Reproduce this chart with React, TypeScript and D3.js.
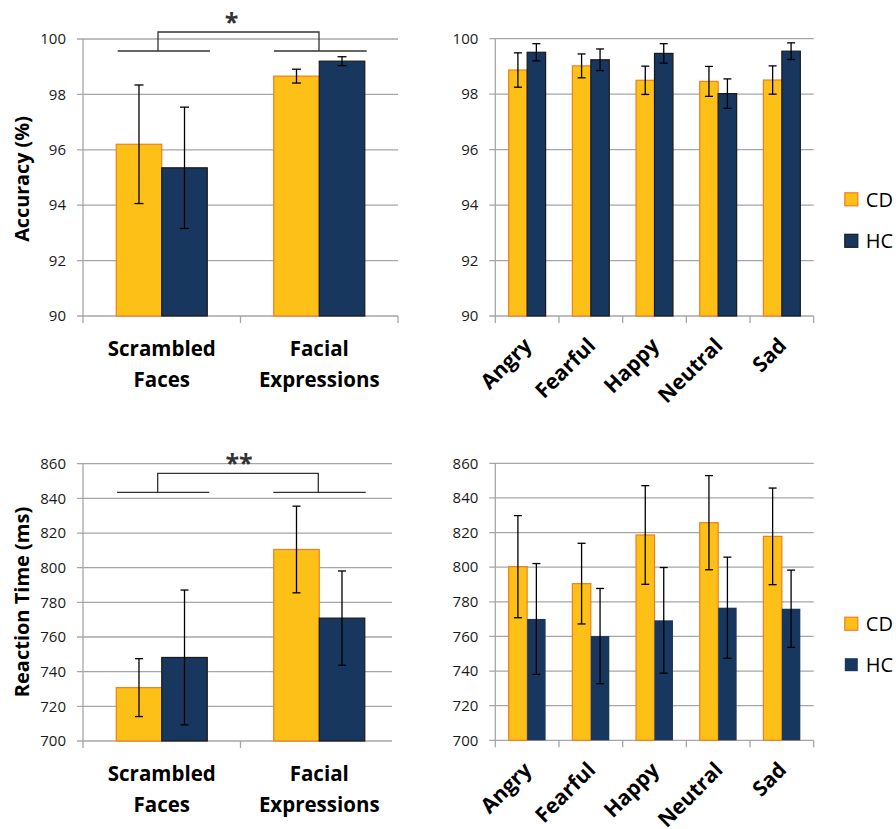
import React from "react";
import * as d3 from "d3";

const groupCats = ["Scrambled Faces", "Facial Expressions"];
const emotionCats = ["Angry", "Fearful", "Happy", "Neutral", "Sad"];

const accGroupCD = [96.2, 98.66];
const accGroupCDErr = [2.14, 0.25];
const accGroupHC = [95.35, 99.2];
const accGroupHCErr = [2.19, 0.16];

const accEmoCD = [98.87, 99.02, 98.5, 98.46, 98.51];
const accEmoCDErr = [0.62, 0.43, 0.51, 0.54, 0.51];
const accEmoHC = [99.51, 99.24, 99.47, 98.02, 99.55];
const accEmoHCErr = [0.31, 0.39, 0.35, 0.53, 0.3];

const rtGroupCD = [730.8, 810.5];
const rtGroupCDErr = [16.7, 25];
const rtGroupHC = [748.2, 770.9];
const rtGroupHCErr = [38.9, 27.2];

const rtEmoCD = [800.3, 790.5, 818.6, 825.7, 817.8];
const rtEmoCDErr = [29.5, 23.3, 28.5, 27.2, 27.9];
const rtEmoHC = [770.1, 760.2, 769.3, 776.6, 776.0];
const rtEmoHCErr = [32, 27.5, 30.5, 29.2, 22.3];

const accTicks = [90, 92, 94, 96, 98, 100];
const rtTicks = [700, 720, 740, 760, 780, 800, 820, 840, 860];

const seriesNames = ["CD", "HC"];

const CD_FILL = "#FCC016";
const CD_STROKE = "#EE7F22";
const HC_FILL = "#17375E";
const GRID = "#A6A6A6";
const FONT = "'Open Sans', sans-serif";

type PanelProps = {
  cats: string[];
  cd: number[];
  cdErr: number[];
  hc: number[];
  hcErr: number[];
  ticks: number[];
  x0: number;
  x1: number;
  yTop: number;
  yBot: number;
  gridRight?: number;
  rotated: boolean;
  hcStroke: string;
  barFrac: number;
  capW: number;
};

function Panel(p: PanelProps) {
  const x = d3.scaleBand<string>().domain(p.cats).range([p.x0, p.x1]).padding(0);
  const y = d3
    .scaleLinear()
    .domain([p.ticks[0], p.ticks[p.ticks.length - 1]])
    .range([p.yBot, p.yTop]);
  const bw = x.bandwidth() * p.barFrac;
  const gr = p.gridRight ?? p.x1;
  const base = y(p.ticks[0]);
  const bounds = [...p.cats.map((c) => x(c)!), p.x1];
  return (
    <g>
      {p.ticks.map((t) => (
        <g key={t}>
          <line x1={p.x0 - 6} x2={gr} y1={y(t)} y2={y(t)} stroke={GRID} strokeWidth={1.3} />
          <text
            x={p.x0 - 17}
            y={y(t)}
            dy="0.35em"
            textAnchor="end"
            fontSize={15}
            fill="#1a1a1a"
            fontFamily={FONT}
          >
            {t}
          </text>
        </g>
      ))}
      <line x1={p.x0} x2={p.x0} y1={p.yTop} y2={base} stroke={GRID} strokeWidth={1.3} />
      {bounds.map((b, i) =>
        i === bounds.length - 1 && p.gridRight ? null : (
          <line key={i} x1={b} x2={b} y1={base} y2={base + 7} stroke={GRID} strokeWidth={1.3} />
        )
      )}
      {p.cats.map((c, i) => {
        const cx = x(c)! + x.bandwidth() / 2;
        const ycd = y(p.cd[i]);
        const yhc = y(p.hc[i]);
        return (
          <g key={c}>
            <rect x={cx - bw} y={ycd} width={bw} height={base - ycd} fill={CD_FILL} stroke={CD_STROKE} strokeWidth={1.2} />
            <rect x={cx} y={yhc} width={bw} height={base - yhc} fill={HC_FILL} stroke={p.hcStroke} strokeWidth={1.2} />
            {[
              [cx - bw / 2, p.cd[i], p.cdErr[i]],
              [cx + bw / 2, p.hc[i], p.hcErr[i]],
            ].map(([ex, v, e], k) => (
              <g key={k} stroke="#000" strokeWidth={1.3}>
                <line x1={ex} x2={ex} y1={y(v + e)} y2={y(v - e)} />
                <line x1={ex - p.capW / 2} x2={ex + p.capW / 2} y1={y(v + e)} y2={y(v + e)} />
                <line x1={ex - p.capW / 2} x2={ex + p.capW / 2} y1={y(v - e)} y2={y(v - e)} />
              </g>
            ))}
            {p.rotated ? (
              <text
                transform={`translate(${cx - 4},${base + 21}) rotate(-45)`}
                textAnchor="end"
                dy={14}
                fontSize={21}
                fontWeight="bold"
                fontFamily={FONT}
                fill="#000"
              >
                {c}
              </text>
            ) : (
              <text textAnchor="middle" fontSize={20.5} fontWeight="bold" fontFamily={FONT} fill="#000">
                {c.split(" ").map((w, j) => (
                  <tspan key={j} x={cx} y={base + 40 + j * 31}>
                    {w}
                  </tspan>
                ))}
              </text>
            )}
          </g>
        );
      })}
    </g>
  );
}

function Bracket({
  y0,
  yTop,
  xs,
  star,
  starX,
  starY,
}: {
  y0: number;
  yTop: number;
  xs: number[][];
  star: string;
  starX: number;
  starY: number;
}) {
  const [a, b] = xs;
  const m1 = a[2];
  const m2 = b[2];
  return (
    <g stroke="#333" strokeWidth={1.3} fill="none">
      <line x1={a[0]} x2={a[1]} y1={y0} y2={y0} />
      <line x1={b[0]} x2={b[1]} y1={y0} y2={y0} />
      <path d={`M${m1},${y0}V${yTop}H${m2}V${y0}`} />
      <text
        x={starX}
        y={starY}
        textAnchor="middle"
        fontSize={25}
        fontWeight="bold"
        fontFamily={FONT}
        fill="#333"
        stroke="none"
      >
        {star}
      </text>
    </g>
  );
}

function Legend({ x, y, gap, hcStroke }: { x: number; y: number; gap: number; hcStroke: string }) {
  return (
    <g>
      {seriesNames.map((s, i) => (
        <g key={s} transform={`translate(${x},${y + i * gap})`}>
          <rect
            x={0}
            y={0}
            width={13}
            height={13}
            fill={i === 0 ? CD_FILL : HC_FILL}
            stroke={i === 0 ? CD_STROKE : hcStroke}
            strokeWidth={1.2}
          />
          <text x={21} y={7} dy="0.35em" fontSize={20} fontFamily={FONT} fill="#000">
            {s}
          </text>
        </g>
      ))}
    </g>
  );
}

export default function App() {
  return (
    <svg width={896} height={829} style={{ position: "absolute", left: 0, top: 0 }}>
      <rect width={896} height={829} fill="#fff" />
      <Panel
        cats={groupCats}
        cd={accGroupCD}
        cdErr={accGroupCDErr}
        hc={accGroupHC}
        hcErr={accGroupHCErr}
        ticks={accTicks}
        x0={83}
        x1={398}
        yTop={39}
        yBot={316}
        rotated={false}
        hcStroke="#1a1a1a"
        barFrac={0.289}
        capW={9}
      />
      <Panel
        cats={emotionCats}
        cd={accEmoCD}
        cdErr={accEmoCDErr}
        hc={accEmoHC}
        hcErr={accEmoHCErr}
        ticks={accTicks}
        x0={495.3}
        x1={813.7}
        yTop={38.7}
        yBot={316}
        rotated={true}
        hcStroke="#1a1a1a"
        barFrac={0.29}
        capW={8}
      />
      <Panel
        cats={groupCats}
        cd={rtGroupCD}
        cdErr={rtGroupCDErr}
        hc={rtGroupHC}
        hcErr={rtGroupHCErr}
        ticks={rtTicks}
        x0={83}
        x1={398}
        gridRight={392}
        yTop={463.7}
        yBot={741}
        rotated={false}
        hcStroke="#1a1a1a"
        barFrac={0.289}
        capW={8}
      />
      <Panel
        cats={emotionCats}
        cd={rtEmoCD}
        cdErr={rtEmoCDErr}
        hc={rtEmoHC}
        hcErr={rtEmoHCErr}
        ticks={rtTicks}
        x0={495.3}
        x1={813.7}
        yTop={463.3}
        yBot={740.3}
        rotated={true}
        hcStroke="none"
        barFrac={0.29}
        capW={8}
      />
      <Bracket y0={51} yTop={32} xs={[[117.7, 210, 158], [274, 366.7, 319]]} star="*" starX={231.5} starY={31} />
      <Bracket
        y0={492.3}
        yTop={473.3}
        xs={[[117, 209.3, 157.7], [273.3, 365.7, 318.3]]}
        star="**"
        starX={239}
        starY={472}
      />
      <Legend x={844.8} y={192.8} gap={41.5} hcStroke="#1a1a1a" />
      <Legend x={844.8} y={617.2} gap={41} hcStroke="none" />
      <text
        transform="translate(29,179) rotate(-90)"
        textAnchor="middle"
        fontSize={19.8}
        fontWeight="bold"
        fontFamily={FONT}
      >
        Accuracy (%)
      </text>
      <text
        transform="translate(29,602) rotate(-90)"
        textAnchor="middle"
        fontSize={20}
        fontWeight="bold"
        fontFamily={FONT}
      >
        Reaction Time (ms)
      </text>
    </svg>
  );
}
